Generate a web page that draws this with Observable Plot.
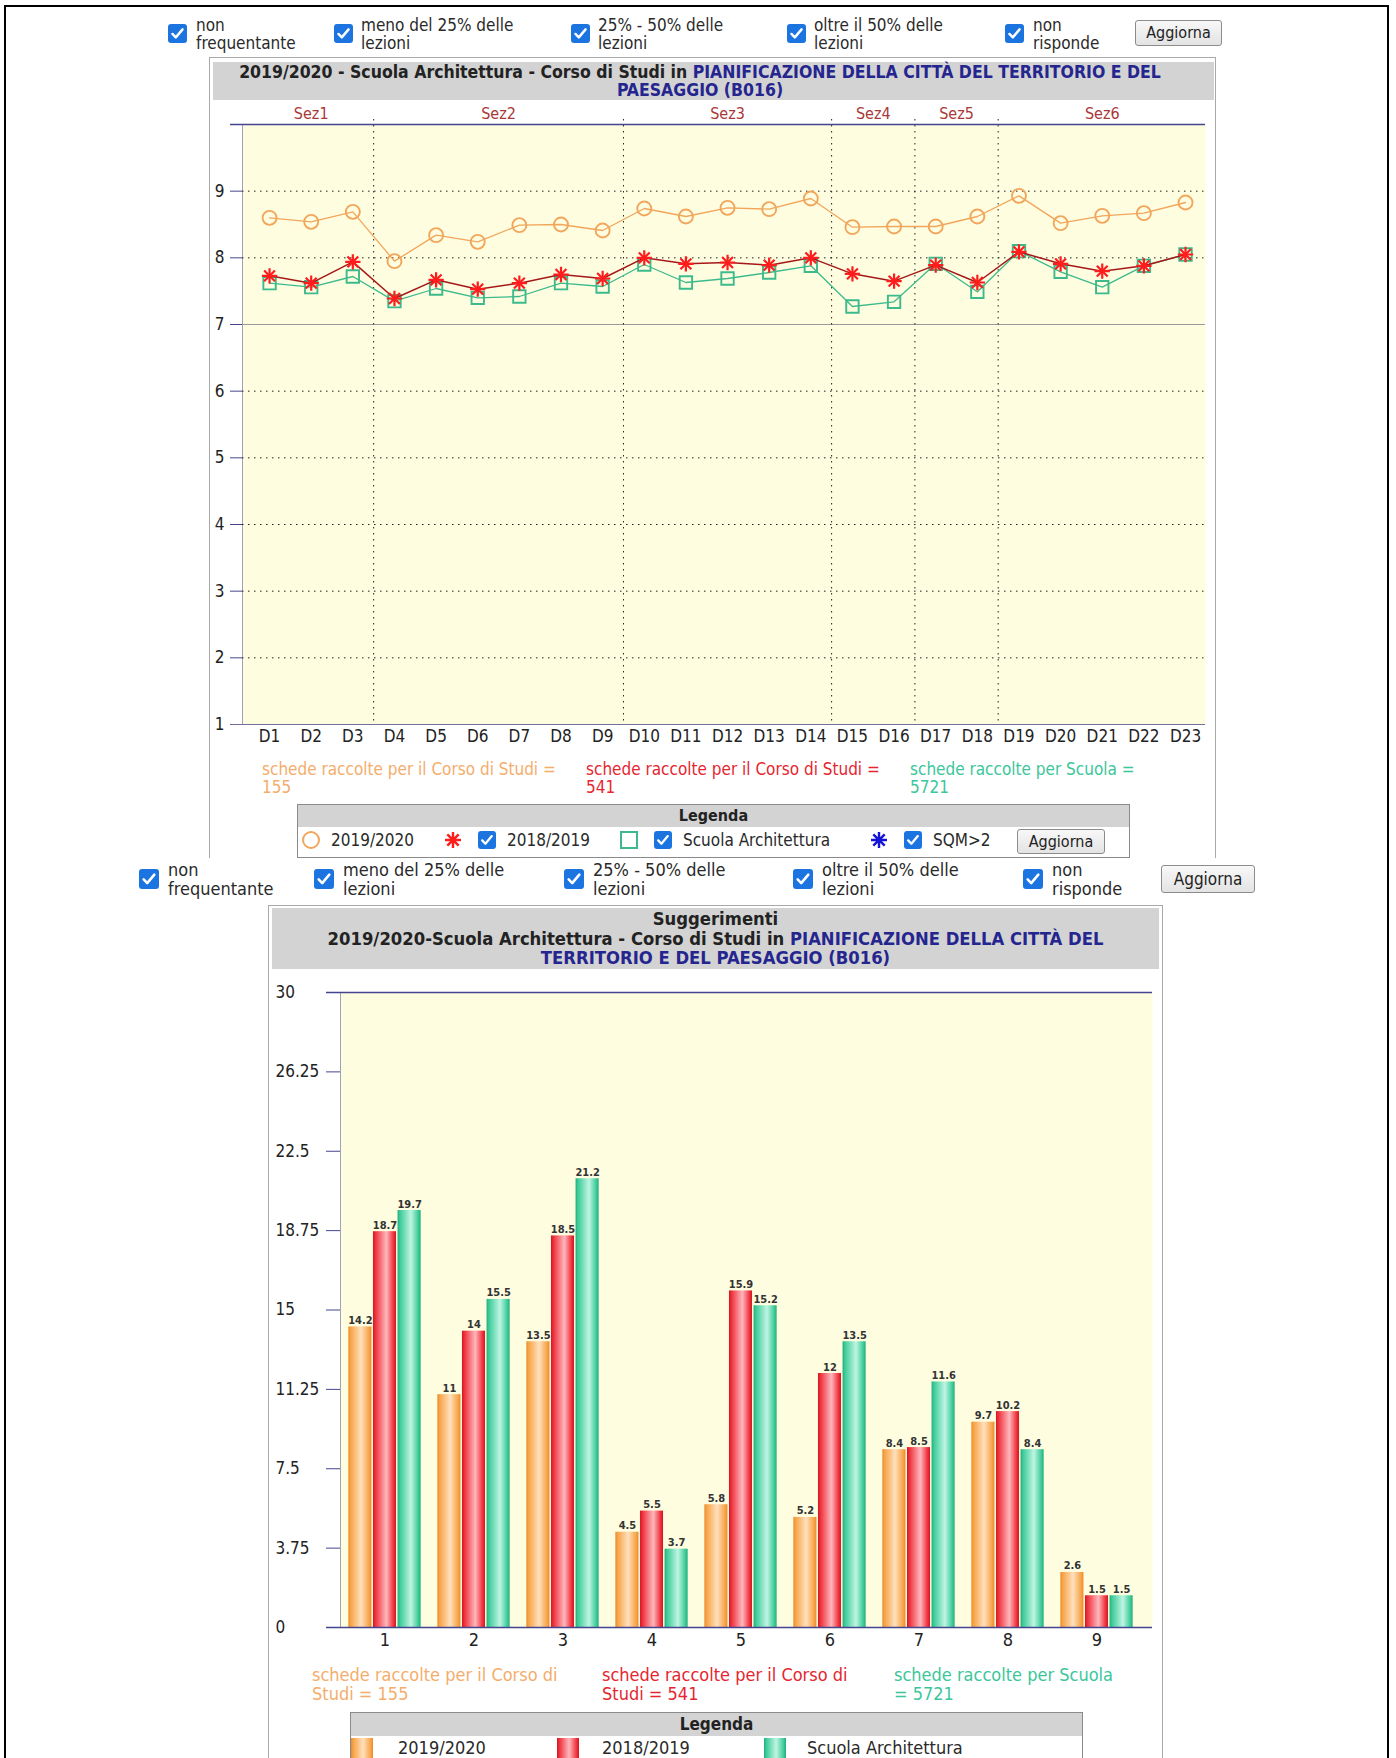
<!DOCTYPE html>
<html><head><meta charset="utf-8">
<script src="https://cdn.jsdelivr.net/npm/d3@7"></script>
<script src="https://cdn.jsdelivr.net/npm/@observablehq/plot@0.6"></script>
<style>
html,body{margin:0;padding:0;background:#fff;}
#page{position:relative;width:1396px;height:1758px;overflow:hidden;font-family:"DejaVu Sans Condensed","DejaVu Sans",sans-serif;font-stretch:condensed;color:#2a2a2a;}
#page div,#page span{position:absolute;}
.cb{width:18px;height:18px;background:#1c74e0;border-radius:3px;}
.cb svg{position:absolute;left:0;top:0;}
.lbl{white-space:nowrap;}
.btn{background:linear-gradient(#f8f8f8,#e3e3e3);border:1px solid #8c8c8c;border-radius:3px;box-sizing:border-box;text-align:center;color:#222;}
.band{background:#d3d3d3;text-align:center;font-weight:bold;color:#222;white-space:nowrap;}
.blue{position:static !important;color:#25258f;}
</style>
</head><body>
<svg width="0" height="0" style="position:absolute">
  <defs>
    <linearGradient id="gO" x1="0" x2="1" y1="0" y2="0">
      <stop offset="0" stop-color="#e98a2b"/><stop offset="0.1" stop-color="#f7a447"/>
      <stop offset="0.55" stop-color="#ffe0bd"/><stop offset="0.9" stop-color="#f7a447"/><stop offset="1" stop-color="#e98a2b"/>
    </linearGradient>
    <linearGradient id="gR" x1="0" x2="1" y1="0" y2="0">
      <stop offset="0" stop-color="#cf1822"/><stop offset="0.1" stop-color="#ee2f3a"/>
      <stop offset="0.58" stop-color="#ffb7bd"/><stop offset="0.9" stop-color="#ee2f3a"/><stop offset="1" stop-color="#cf1822"/>
    </linearGradient>
    <linearGradient id="gG" x1="0" x2="1" y1="0" y2="0">
      <stop offset="0" stop-color="#22ab7c"/><stop offset="0.1" stop-color="#3ccb98"/>
      <stop offset="0.58" stop-color="#bff5e3"/><stop offset="0.9" stop-color="#3ccb98"/><stop offset="1" stop-color="#22ab7c"/>
    </linearGradient>
  </defs>
</svg>
<div id="page"></div>
<script>
// ---------------- DATA ----------------
const questions = ["D1","D2","D3","D4","D5","D6","D7","D8","D9","D10","D11","D12","D13","D14","D15","D16","D17","D18","D19","D20","D21","D22","D23"];
const sections = ["Sez1","Sez2","Sez3","Sez4","Sez5","Sez6"];
const sectionSizes = [3, 6, 5, 2, 2, 5];
const v2019_20 = [8.60,8.54,8.69,7.95,8.34,8.24,8.49,8.50,8.41,8.74,8.62,8.75,8.73,8.89,8.46,8.47,8.47,8.62,8.93,8.52,8.63,8.67,8.83];
const v2018_19 = [7.73,7.62,7.94,7.39,7.67,7.53,7.62,7.75,7.69,8.00,7.91,7.93,7.89,8.00,7.76,7.65,7.89,7.63,8.09,7.91,7.80,7.88,8.05];
const vScuola  = [7.62,7.56,7.72,7.35,7.54,7.40,7.42,7.62,7.57,7.90,7.63,7.69,7.78,7.88,7.27,7.34,7.91,7.49,8.10,7.79,7.56,7.88,8.05];
const lineTicks = [1,2,3,4,5,6,7,8,9];
const lineMax = 10;
const threshold = 7;

const suggestions = ["1","2","3","4","5","6","7","8","9"];
const bars2019_20 = [14.2,11,13.5,4.5,5.8,5.2,8.4,9.7,2.6];
const bars2018_19 = [18.7,14,18.5,5.5,15.9,12,8.5,10.2,1.5];
const barsScuola  = [19.7,15.5,21.2,3.7,15.2,13.5,11.6,8.4,1.5];
const barTicks = [0,3.75,7.5,11.25,15,18.75,22.5,26.25,30];

const countCorso2019 = 155, countCorso2018 = 541, countScuola = 5721;
const filters = [["non","frequentante"],["meno del 25% delle","lezioni"],["25% - 50% delle","lezioni"],["oltre il 50% delle","lezioni"],["non","risponde"]];

// ---------------- STYLE ----------------
const FONT = '"DejaVu Sans Condensed","DejaVu Sans",sans-serif';
const AX = "#45458f", BG = "#fefde0";
const C_OR = "#f2a65c", C_RED_L = "#a51818", C_RED = "#ff1c1c", C_GR = "#3dba8c";
const T_OR = "#f4ad6c", T_RED = "#e5262f", T_GR = "#3cc69b";

const page = document.getElementById("page");
function add(cls, style, html) {
  const el = document.createElement("div");
  if (cls) el.className = cls;
  el.setAttribute("style", style);
  if (html != null) el.innerHTML = html;
  page.appendChild(el);
  return el;
}
const CHECK = '<svg width="18" height="18" viewBox="0 0 18 18"><path d="M4.2 9.4l3.2 3.3 6.4-7.6" fill="none" stroke="#fff" stroke-width="2.3" stroke-linecap="round" stroke-linejoin="round"/></svg>';
function checkbox(cx, cy, s) { return add("cb", `left:${cx - s/2}px;top:${cy - s/2}px;width:${s}px;height:${s}px`, CHECK.replace(/width="18" height="18"/, `width="${s}" height="${s}"`)); }

// page border
add("", "left:4px;top:5px;width:1385px;height:2px;background:#000");
add("", "left:4px;top:5px;width:2px;height:1753px;background:#000");
add("", "left:1387px;top:5px;width:2px;height:1753px;background:#000");

// ---------- filter rows ----------
function filterRow(boxX, textX, cy, lineTop, fs, lh, bs, btn) {
  filters.forEach((f, k) => {
    checkbox(boxX[k], cy, bs);
    add("lbl", `left:${textX[k]}px;top:${lineTop}px;font-size:${fs}px;line-height:${lh}px`, f[0] + "<br>" + f[1]);
  });
  add("btn", `left:${btn[0]}px;top:${btn[1]}px;width:${btn[2]}px;height:${btn[3]}px;font-size:${fs-1}px;line-height:${btn[3]-2}px`, "Aggiorna");
}
filterRow([177,343,580,796,1014],[196,361,598,814,1033],33,17,17,17.5,19,[1135,20,87,26]);
filterRow([149,324,574,803,1033],[168,343,593,822,1052],879,860,18,19,20,[1161,865,94,28]);

// ---------- top panel ----------
add("", "left:209px;top:57px;width:1007px;height:801px;border:1px solid #a9a9a9;border-bottom:none;box-sizing:border-box");
add("band", "left:213px;top:62px;width:1001px;height:38px;font-size:17.5px;line-height:18px;padding-top:1px;padding-right:27px;box-sizing:border-box",
  '2019/2020 - Scuola Architettura - Corso di Studi in <span class="blue">PIANIFICAZIONE DELLA CITTÀ DEL TERRITORIO E DEL<br>PAESAGGIO (B016)</span>');

// ---------- line chart ----------
const rows = vals => vals.map((v, i) => ({i: i + 1, v}));
let acc = 0;
const secInfo = sections.map((name, k) => { const start = acc + 1; acc += sectionSizes[k]; return {name, center: (start + acc) / 2, end: acc + 0.5}; });
const boundaries = secInfo.slice(0, -1).map(s => s.end);
const qRows = questions.map((q, i) => ({i: i + 1, q}));

const lineChart = Plot.plot({
  width: 1396, height: 660,
  marginLeft: 242, marginRight: 191, marginTop: 24, marginBottom: 36,
  style: {background: "transparent", color: AX, fontFamily: FONT, fontSize: "17px", overflow: "visible"},
  x: {domain: [0.35, questions.length + 0.48], axis: null},
  y: {domain: [lineTicks[0], lineMax], ticks: lineTicks, tickSize: 12, tickFormat: () => "", label: null, line: true},
  marks: [
    Plot.frame({fill: BG, stroke: "none"}),
    Plot.ruleY(lineTicks.filter(t => t !== threshold && t !== lineTicks[0]), {stroke: "#222", strokeDasharray: "1.5,4.5"}),
    Plot.ruleY([threshold], {stroke: "#9a9a9a"}),
    Plot.ruleX(boundaries, {stroke: "#222", strokeDasharray: "1.5,4.5", insetTop: -5}),
    Plot.ruleY([lineMax], {stroke: AX, strokeWidth: 1.5, insetLeft: -12}),
    Plot.ruleY([lineTicks[0]], {stroke: "#70709a", strokeWidth: 1.2, insetLeft: -12}),
    Plot.line(rows(v2019_20), {x: "i", y: "v", stroke: C_OR, strokeWidth: 1.3}),
    Plot.dot(rows(v2019_20), {x: "i", y: "v", r: 7, stroke: C_OR, strokeWidth: 1.9, fill: "none"}),
    Plot.line(rows(vScuola), {x: "i", y: "v", stroke: C_GR, strokeWidth: 1.3}),
    Plot.dot(rows(vScuola), {x: "i", y: "v", symbol: "square", r: 7, stroke: C_GR, strokeWidth: 1.9, fill: "none"}),
    Plot.line(rows(v2018_19), {x: "i", y: "v", stroke: C_RED_L, strokeWidth: 1.5}),
    Plot.dot(rows(v2018_19), {x: "i", y: "v", symbol: "plus", r: 5, stroke: C_RED, strokeWidth: 2.2}),
    Plot.dot(rows(v2018_19), {x: "i", y: "v", symbol: "times", r: 5, stroke: C_RED, strokeWidth: 2.2}),
    Plot.text(secInfo, {x: "center", text: "name", frameAnchor: "top", lineAnchor: "middle", dy: -11, fill: "#a93838", fontSize: 16}),
    Plot.text(qRows, {x: "i", text: "q", frameAnchor: "bottom", lineAnchor: "middle", dy: 12, fill: "#222", fontSize: 17}),
    Plot.text(lineTicks, {y: d => d, text: d => String(d), frameAnchor: "left", dx: -18, textAnchor: "end", fill: "#222", fontSize: 17})
  ]
});
lineChart.style.position = "absolute";
lineChart.style.left = "0px";
lineChart.style.top = "100px";
page.appendChild(lineChart);

// counts under line chart
add("lbl", `left:262px;top:760px;font-size:17px;line-height:18px;color:${T_OR}`, `schede raccolte per il Corso di Studi =<br>${countCorso2019}`);
add("lbl", `left:586px;top:760px;font-size:17px;line-height:18px;color:${T_RED}`, `schede raccolte per il Corso di Studi =<br>${countCorso2018}`);
add("lbl", `left:910px;top:760px;font-size:17px;line-height:18px;color:${T_GR}`, `schede raccolte per Scuola =<br>${countScuola}`);

// legend top
add("", "left:297px;top:804px;width:833px;height:54px;border:1px solid #8a8a8a;box-sizing:border-box;background:#fff");
add("band", "left:298px;top:805px;width:831px;height:22px;font-size:16px;line-height:22px", "Legenda");
const LG = 840;
add("", `left:301px;top:${LG-10}px;width:20px;height:20px`, `<svg width="20" height="20"><circle cx="10" cy="10" r="8" fill="none" stroke="${C_OR}" stroke-width="2"/></svg>`);
add("lbl", `left:331px;top:${LG-10}px;font-size:17px;line-height:20px`, "2019/2020");
add("", `left:443px;top:${LG-10}px;width:20px;height:20px`, `<svg width="20" height="20"><g stroke="${C_RED}" stroke-width="2.4"><path d="M10 2V18M2 10H18M4.3 4.3L15.7 15.7M4.3 15.7L15.7 4.3"/></g></svg>`);
checkbox(487, LG, 18);
add("lbl", `left:507px;top:${LG-10}px;font-size:17px;line-height:20px`, "2018/2019");
add("", `left:619px;top:${LG-10}px;width:20px;height:20px`, `<svg width="20" height="20"><rect x="2" y="2" width="16" height="16" fill="none" stroke="${C_GR}" stroke-width="2"/></svg>`);
checkbox(663, LG, 18);
add("lbl", `left:683px;top:${LG-10}px;font-size:17px;line-height:20px`, "Scuola Architettura");
add("", `left:869px;top:${LG-10}px;width:20px;height:20px`, `<svg width="20" height="20"><g stroke="#1414d8" stroke-width="2.4"><path d="M10 2V18M2 10H18M4.3 4.3L15.7 15.7M4.3 15.7L15.7 4.3"/></g></svg>`);
checkbox(913, LG, 18);
add("lbl", `left:933px;top:${LG-10}px;font-size:17px;line-height:20px`, "SQM&gt;2");
add("btn", `left:1017px;top:829px;width:88px;height:25px;font-size:16px;line-height:23px`, "Aggiorna");

// ---------- bar panel ----------
add("", "left:268px;top:905px;width:895px;height:900px;border:1px solid #a9a9a9;border-bottom:none;box-sizing:border-box");
add("band", "left:272px;top:908px;width:887px;height:61px;font-size:18.3px;line-height:19.5px;padding-top:1px;box-sizing:border-box",
  'Suggerimenti<br>2019/2020-Scuola Architettura - Corso di Studi in <span class="blue">PIANIFICAZIONE DELLA CITTÀ DEL<br>TERRITORIO E DEL PAESAGGIO (B016)</span>');

const barW = 1396, bML = 340, bMR = 244, pOuter = 0.045;
const B = (barW - bML - bMR) / (suggestions.length + 2 * pOuter);
const w = 24.6, g0 = (B - 3 * w) / 2;
const barSeries = [
  {vals: bars2019_20, fill: "url(#gO)"},
  {vals: bars2018_19, fill: "url(#gR)"},
  {vals: barsScuola, fill: "url(#gG)"}
];
const barRows = vals => vals.map((v, i) => ({c: suggestions[i], v}));

const barChart = Plot.plot({
  width: barW, height: 691,
  marginLeft: bML, marginRight: bMR, marginTop: 23, marginBottom: 33,
  style: {background: "transparent", color: AX, fontFamily: FONT, fontSize: "17px", overflow: "visible"},
  x: {type: "band", domain: suggestions, paddingInner: 0, paddingOuter: pOuter, align: 0, axis: null},
  y: {domain: [barTicks[0], barTicks[barTicks.length - 1]], ticks: barTicks, tickSize: 14, tickFormat: () => "", label: null, line: true},
  marks: [
    Plot.frame({fill: BG, stroke: "none"}),
    ...barSeries.map((s, k) => Plot.barY(barRows(s.vals), {x: "c", y: "v", fill: s.fill, insetLeft: g0 + k * w + 0.6, insetRight: B - g0 - (k + 1) * w + 0.6})),
    ...barSeries.map((s, k) => Plot.text(barRows(s.vals), {x: "c", y: "v", text: d => String(d.v), dx: (k - 1) * w, dy: -3, lineAnchor: "bottom", fontWeight: "bold", fontSize: 11, fill: "#333"})),
    Plot.ruleY([barTicks[barTicks.length - 1]], {stroke: AX, strokeWidth: 1.3, insetLeft: -14}),
    Plot.ruleY([barTicks[0]], {stroke: AX, strokeWidth: 1.5, insetLeft: -14}),
    Plot.text(suggestions, {x: d => d, text: d => d, frameAnchor: "bottom", lineAnchor: "middle", dy: 13, fill: "#222", fontSize: 18}),
    Plot.text(barTicks, {y: d => d, text: d => String(d), frameAnchor: "left", dx: -65, textAnchor: "start", fill: "#222", fontSize: 17})
  ]
});
barChart.style.position = "absolute";
barChart.style.left = "0px";
barChart.style.top = "969px";
page.appendChild(barChart);

add("lbl", `left:312px;top:1665px;font-size:18px;line-height:19px;color:${T_OR}`, `schede raccolte per il Corso di<br>Studi = ${countCorso2019}`);
add("lbl", `left:602px;top:1665px;font-size:18px;line-height:19px;color:${T_RED}`, `schede raccolte per il Corso di<br>Studi = ${countCorso2018}`);
add("lbl", `left:894px;top:1665px;font-size:18px;line-height:19px;color:${T_GR}`, `schede raccolte per Scuola<br>= ${countScuola}`);

// legend bottom
add("", "left:350px;top:1712px;width:733px;height:80px;border:1px solid #8a8a8a;box-sizing:border-box;background:#fff");
add("band", "left:351px;top:1713px;width:731px;height:23px;font-size:17px;line-height:23px", "Legenda");
const sw = (x, c1, c2, c3) => add("", `left:${x}px;top:1738px;width:22px;height:30px;background:linear-gradient(to right, ${c1}, ${c2} 10%, ${c3} 55%, ${c2} 90%, ${c1})`);
sw(351, "#e98a2b", "#f7a447", "#ffe0bd");
add("lbl", "left:398px;top:1738px;font-size:18px;line-height:20px", "2019/2020");
sw(557, "#cf1822", "#ee2f3a", "#ffb7bd");
add("lbl", "left:602px;top:1738px;font-size:18px;line-height:20px", "2018/2019");
sw(764, "#22ab7c", "#3ccb98", "#bff5e3");
add("lbl", "left:807px;top:1738px;font-size:18px;line-height:20px", "Scuola Architettura");
</script>
</body></html>
